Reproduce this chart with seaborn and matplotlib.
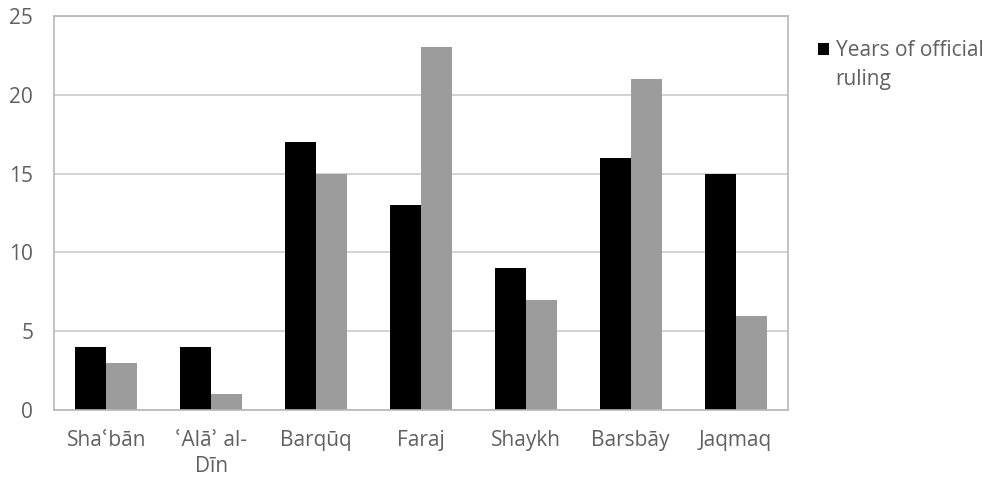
import pandas as pd
import numpy as np
import matplotlib.pyplot as plt
import seaborn as sns
from matplotlib.patches import Patch

# Sultans and years
sultans = ['Shaʿbān', 'ʿAlāʾ al-\nDīn', 'Barqūq', 'Faraj', 'Shaykh', 'Barsbāy', 'Jaqmaq']
official_years = [4, 4, 17, 13, 9, 16, 15]
other_years = [3, 1, 15, 23, 7, 21, 6]
series = ['Years of official ruling', 'Other']

df = pd.DataFrame({
    'Sultan': sultans * 2,
    'Years': official_years + other_years,
    'Series': [series[0]] * len(sultans) + [series[1]] * len(sultans),
})

sns.set_style('white')
plt.rcParams['font.family'] = ['Open Sans', 'DejaVu Sans']

fig = plt.figure(figsize=(9.94, 4.82), dpi=100)
ax = fig.add_axes([0.0543, 0.149, 0.7385, 0.818])

sns.barplot(data=df, x='Sultan', y='Years', hue='Series',
            palette=['#000000', '#9c9c9c'], width=0.59, ax=ax,
            saturation=1, legend=False, linewidth=0)

ax.set_ylim(0, 25)
ax.set_yticks(range(0, 26, 5))
ax.set_xlabel('')
ax.set_ylabel('')
ax.yaxis.grid(True, color='#cccccc', linewidth=1.2)
ax.set_axisbelow(True)
for s in ax.spines.values():
    s.set_color('#b8b8b8')
    s.set_linewidth(1.2)
ax.tick_params(axis='both', length=0, labelsize=15, labelcolor='#606060')
ax.tick_params(axis='x', pad=14)
ax.tick_params(axis='y', pad=15)
for t in ax.get_xticklabels():
    t.set_linespacing(1.35)

# legend: only the first series, label wraps with the square on line one
handle = Patch(facecolor='#000000', edgecolor='none')
leg = fig.legend([handle], ['Years of official'], loc='upper left',
                 bbox_to_anchor=(0.804, 0.955), frameon=False,
                 handlelength=0.55, handleheight=0.55, handletextpad=0.3,
                 labelcolor='#606060', prop={'size': 15})
fig.canvas.draw()
bb = leg.get_texts()[0].get_window_extent()
fig.text(bb.x0 / fig.bbox.width, (bb.y0 - 29) / fig.bbox.height, 'ruling',
         fontsize=15, color='#606060', ha='left', va='bottom')

fig.savefig('out.png', dpi=100)
